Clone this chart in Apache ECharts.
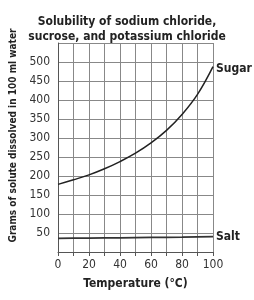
<!DOCTYPE html>
<html>
<head>
<meta charset="utf-8">
<script src="https://cdn.jsdelivr.net/npm/echarts@6/dist/echarts.min.js"></script>
<style>
  html, body { margin: 0; padding: 0; background: #fff; }
  #chart { width: 254px; height: 300px; }
</style>
</head>
<body>
<div id="chart"></div>
<script>
// temperature (°C)
var temps = [0, 10, 20, 30, 40, 50, 60, 70, 80, 90, 100];
// grams dissolved in 100 ml water
var sugar = [178, 190, 203, 219, 238, 260, 287, 320, 362, 415, 488];
var salt = [36, 36.3, 36.6, 37, 37.4, 37.8, 38.3, 38.7, 39.2, 39.8, 40.5];

var font = '"DejaVu Sans Condensed", "Liberation Sans Narrow", sans-serif';

function pairs(xs, ys) {
    var out = [];
    for (var i = 0; i < xs.length; i++) {
        out.push([xs[i], ys[i]]);
    }
    return out;
}

var chart = echarts.init(document.getElementById('chart'));

chart.setOption({
    animation: false,
    title: {
        text: 'Solubility of sodium chloride,\nsucrose, and potassium chloride',
        left: 'center',
        top: 9,
        textStyle: {
            fontFamily: font,
            fontSize: 12,
            fontWeight: 'bold',
            color: '#222',
            lineHeight: 15
        }
    },
    grid: {
        left: 58,
        right: 41,
        top: 43,
        bottom: 48
    },
    xAxis: {
        type: 'value',
        min: 0,
        max: 100,
        interval: 10,
        name: 'Temperature (°C)',
        nameLocation: 'middle',
        nameGap: 26,
        nameTextStyle: {
            fontFamily: font,
            fontSize: 12,
            fontWeight: 'bold',
            color: '#222'
        },
        axisLine: { lineStyle: { color: '#555', width: 1 } },
        axisTick: { show: true, length: 4, lineStyle: { color: '#555' } },
        splitLine: { show: true, lineStyle: { color: '#888', width: 1 } },
        axisLabel: {
            fontFamily: font,
            fontSize: 12,
            color: '#333',
            margin: 7,
            formatter: function (v) {
                return v % 20 === 0 ? String(v) : '';
            }
        }
    },
    yAxis: {
        type: 'value',
        min: 0,
        max: 550,
        interval: 50,
        name: 'Grams of solute dissolved in 100 ml water',
        nameLocation: 'middle',
        nameGap: 35,
        nameTextStyle: {
            fontFamily: font,
            fontSize: 10,
            fontWeight: 'bold',
            color: '#222',
            padding: [0, 0, 0, 24]
        },
        axisLine: { show: true, lineStyle: { color: '#555', width: 1 } },
        axisTick: { show: false },
        splitLine: { show: true, lineStyle: { color: '#888', width: 1 } },
        axisLabel: {
            fontFamily: font,
            fontSize: 12,
            color: '#333',
            margin: 8,
            showMinLabel: false,
            showMaxLabel: false
        }
    },
    series: [
        {
            name: 'Sugar',
            type: 'line',
            smooth: 0.4,
            symbol: 'none',
            data: pairs(temps, sugar),
            lineStyle: { color: '#222', width: 1.5 },
            endLabel: {
                show: true,
                formatter: 'Sugar',
                fontFamily: font,
                fontSize: 12,
                fontWeight: 'bold',
                color: '#222',
                distance: 3,
                offset: [0, 2]
            }
        },
        {
            name: 'Salt',
            type: 'line',
            symbol: 'none',
            data: pairs(temps, salt),
            lineStyle: { color: '#333', width: 1.8 },
            endLabel: {
                show: true,
                formatter: 'Salt',
                fontFamily: font,
                fontSize: 12,
                fontWeight: 'bold',
                color: '#222',
                distance: 3
            }
        }
    ]
});
</script>
</body>
</html>
